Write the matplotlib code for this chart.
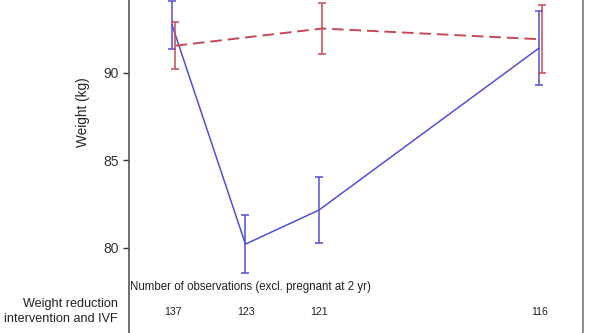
import numpy as np
from matplotlib import pyplot as plt

plt.rcParams["font.family"] = ["Liberation Sans", "DejaVu Sans"]

# %% values

months_iv = [0, 6, 12, 30]
weight_iv = [92.74, 80.22, 82.16, 91.42]
ci_iv = [1.37, 1.64, 1.87, 2.12]

months_ctrl = [0, 12, 30]
weight_ctrl = [91.56, 92.54, 91.92]
ci_ctrl = [1.35, 1.44, 1.94]

n_obs = [137, 123, 121, 116]
y_ticks = [80, 85, 90]

# %% plot

blue = "#5050d6"
red = "#c44a56"
grey = "#333333"
shift = 0.28

fig = plt.figure(figsize=(5.9, 3.33), dpi=100)
ax = fig.add_axes([129 / 590, 0, (583 - 129) / 590, 1])

ax.plot(months_iv, weight_iv, color=blue, lw=1.1)
ax.errorbar(months_iv, weight_iv, yerr=ci_iv, fmt="none", ecolor=blue,
            elinewidth=1.1, capsize=3, capthick=1.1)

ctrl_x = np.array(months_ctrl) + shift
ax.plot(ctrl_x, weight_ctrl, color=red, lw=1.4, dashes=(6, 3))
ax.errorbar(ctrl_x, weight_ctrl, yerr=ci_ctrl, fmt="none", ecolor=red,
            elinewidth=1.1, capsize=3, capthick=1.1)

ax.set_xlim(-3.52, 33.6)
ax.set_ylim(75.14, 94.17)
ax.set_yticks(y_ticks)
ax.set_yticklabels([str(t) for t in y_ticks], fontsize=10, color=grey)
ax.tick_params(axis="y", length=4.5, width=1, color=grey, pad=3)
ax.set_xticks([])

for side in ["top", "bottom"]:
    ax.spines[side].set_visible(False)
ax.spines["left"].set_color("#555555")
ax.spines["right"].set_color("#777777")
ax.spines["left"].set_linewidth(1.2)
ax.spines["right"].set_linewidth(1.2)

ax.text(-3.4, 77.77, "Number of observations (excl. pregnant at 2 yr)",
        fontsize=8.3, color="#222222", va="center", ha="left")
for m, n in zip(months_iv, n_obs):
    ax.text(m + 0.05, 76.34, str(n), fontsize=7.6, color="#222222",
            ha="center", va="center")

fig.text(118 / 590, 1 - 304 / 333, "Weight reduction", fontsize=9.1,
         color="#222222", ha="right", va="center")
fig.text(118 / 590, 1 - 319 / 333, "intervention and IVF", fontsize=9.1,
         color="#222222", ha="right", va="center")
fig.text(83 / 590, 1 - 112 / 333, "Weight (kg)", fontsize=9.8, color="#222222",
         rotation=90, ha="center", va="center")

fig.savefig("out.png", dpi=100)
